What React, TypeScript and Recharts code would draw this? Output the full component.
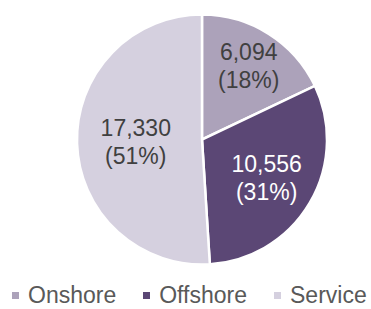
import { Cell, Legend, Pie, PieChart } from "recharts";

const categories = ["Onshore", "Offshore", "Service"];
const values = [6094, 10556, 17330];
const percentLabels = ["18%", "31%", "51%"];

const colors = ["#aca2ba", "#5b4775", "#d5d0df"];
const labelColors = ["#404040", "#ffffff", "#404040"];
// how far from the centre each label sits, as a share of the radius
const labelRadius = [0.7, 0.6, 0.53];

const data = categories.map((name, i) => ({ name, value: values[i], pct: percentLabels[i] }));

const RADIAN = Math.PI / 180;

function renderLabel(props: any) {
  const { cx, cy, midAngle, outerRadius, index } = props;
  const r = outerRadius * labelRadius[index];
  const x = cx + r * Math.cos(-midAngle * RADIAN);
  const y = cy + r * Math.sin(-midAngle * RADIAN);
  return (
    <text x={x} y={y} fill={labelColors[index]} textAnchor="middle" fontSize={23} fontFamily="'Liberation Sans', Arial, sans-serif">
      <tspan x={x} y={y - 6}>{data[index].value.toLocaleString("en-US")}</tspan>
      <tspan x={x} y={y + 22}>({data[index].pct})</tspan>
    </text>
  );
}

function renderLegend() {
  return (
    <div style={{ display: "flex", alignItems: "center", paddingLeft: 12, fontFamily: "'Liberation Sans', Arial, sans-serif", fontSize: 23, lineHeight: "26px", height: 26, color: "#595959" }}>
      {categories.map((name, i) => (
        <span key={name} style={{ display: "flex", alignItems: "center", marginRight: i < categories.length - 1 ? 27 : 0 }}>
          <span style={{ width: 7, height: 7, background: colors[i], marginRight: 9, marginTop: 1 }} />
          {name}
        </span>
      ))}
    </div>
  );
}

export default function App() {
  return (
    <div style={{ width: 371, height: 309, background: "#fff" }}>
      <style>{`body{margin:0}`}</style>
      <PieChart width={371} height={309} margin={{ top: 0, right: 0, bottom: 0, left: 0 }}>
        <Pie
          data={data}
          dataKey="value"
          nameKey="name"
          cx={202}
          cy={139.5}
          outerRadius={125}
          startAngle={90}
          endAngle={-270}
          stroke="#ffffff"
          strokeWidth={2.5}
          label={renderLabel}
          labelLine={false}
          isAnimationActive={false}
        >
          {data.map((entry, index) => (
            <Cell key={entry.name} fill={colors[index]} />
          ))}
        </Pie>
        <Legend content={renderLegend} wrapperStyle={{ top: 282, left: 0, width: 371, height: 26 }} />
      </PieChart>
    </div>
  );
}
